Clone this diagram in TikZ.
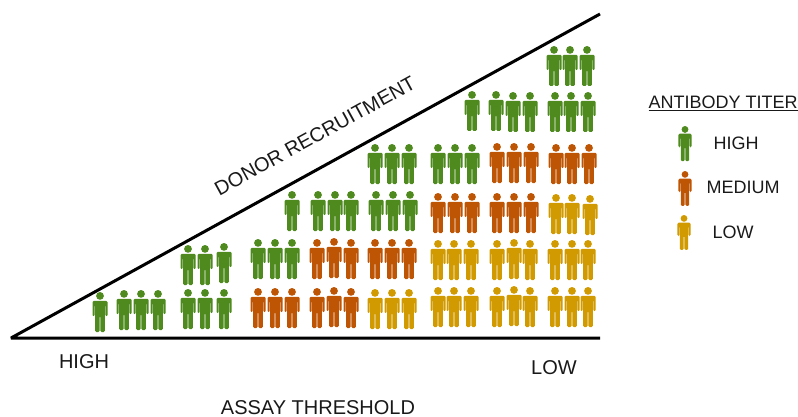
\documentclass[tikz,border=0pt]{standalone}
\usepackage{fontspec}
\setmainfont{Liberation Sans}
\definecolor{titerG}{HTML}{4E8A1E}
\definecolor{titerM}{HTML}{BE5504}
\definecolor{titerL}{HTML}{D19A00}
\tikzset{
  person/.pic={
    \fill[pic actions] (0,3.9) circle (3.9);
    \fill[pic actions, rounded corners=1.2pt]
      (-7.5,24.2) -- (-7.5,8.8) -- (7.5,8.8) -- (7.5,24.2) -- (5.3,24.2) -- (5.3,13) -- (4.8,13)
      -- (4.8,40) -- (0.4,40) -- (0.4,24) -- (-0.4,24) -- (-0.4,40) -- (-4.8,40)
      -- (-4.8,13) -- (-5.3,13) -- (-5.3,24.2) -- cycle;
  },
  tg/.style={fill=titerG}, tm/.style={fill=titerM}, tl/.style={fill=titerL},
  axisline/.style={draw=black, line width=3pt, line cap=butt},
  lbl/.style={font=\fontsize{20}{22}\selectfont, text=black!90, inner sep=0pt},
  keylbl/.style={font=\fontsize{18}{20}\selectfont, text=black!90, inner sep=0pt},
}
\begin{document}
\begin{tikzpicture}[x=1pt,y=-1pt]
\useasboundingbox (0,0) rectangle (798,417);
\coordinate (apex) at (11,338);
\coordinate (top) at (600,14);
\coordinate (right) at (600,338);
\draw[axisline, line join=bevel] (top) -- (apex) -- (right);
% x, head top, style
\foreach \x/\y/\c in {%
 100/292/tg,124/290/tg,141/290/tg,158/290/tg,%
 188/245/tg,205/245/tg,224/243/tg,188/289/tg,205/289/tg,224/289/tg,%
 258/239/tg,275/239/tg,292/239/tg,258/288/tm,275/288/tm,292/288/tm,%
 292/191/tg,%
 318/191/tg,335/191/tg,351/191/tg,%
 317/239/tm,334/238/tm,351/239/tm,317/288/tm,334/287/tm,351/288/tm,%
 375/144/tg,392/144/tg,409/144/tg,376/191/tg,393/191/tg,410/191/tg,%
 375/239/tm,392/239/tm,409/239/tm,375/289/tl,392/289/tl,409/289/tl,%
 438/144/tg,455/144/tg,472/144/tg,438/193/tm,455/193/tm,472/193/tm,%
 438/240/tl,454/240/tl,471/240/tl,438/287/tl,454/287/tl,471/287/tl,%
 472/91/tg,%
 496/91/tg,513/92/tg,530/92/tg,%
 497/143/tm,514/143/tm,531/143/tm,497/193/tm,514/193/tm,531/193/tm,%
 497/240/tl,514/239/tl,530/240/tl,497/287/tl,514/286/tl,530/287/tl,%
 554/46/tg,570/46/tg,587/46/tg,555/92/tg,571/92/tg,588/92/tg,%
 556/144/tm,572/144/tm,589/144/tm,556/194/tl,572/194/tl,590/195/tl,%
 555/240/tl,572/240/tl,588/240/tl,555/287/tl,572/287/tl,588/287/tl%
}{%
  \pic[\c] at (\x,\y) {person};
}
\pic[tg,scale=0.88] at (685,126) {person};
\pic[tm,scale=0.87] at (685,171) {person};
\pic[tl,scale=0.87] at (684,215) {person};
\node[lbl,rotate=28.8] (recruit) at (315,136) {DONOR RECRUITMENT};
\node[lbl] (xhigh) at (84,362) {HIGH};
\node[lbl] (xlow) at (554,368) {LOW};
\node[lbl] (xtitle) at (318,407.5) {ASSAY THRESHOLD};
\node[keylbl] (legend) at (723,103) {\underline{ANTIBODY TITER}};
\node[keylbl] (lhigh) at (736,143) {HIGH};
\node[keylbl] (lmed) at (743,187) {MEDIUM};
\node[keylbl] (llow) at (733,232) {LOW};
\end{tikzpicture}
\end{document}
